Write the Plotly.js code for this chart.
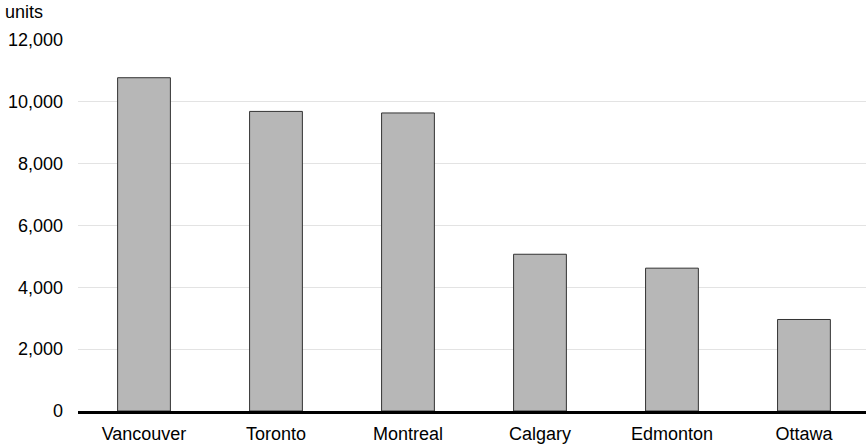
<!DOCTYPE html>
<html>
<head>
<meta charset="utf-8">
<script src="https://cdn.plot.ly/plotly-3.0.1.min.js"></script>
<style>html,body{margin:0;padding:0;background:#fff;}#chart{width:866px;height:444px;}</style>
</head>
<body>
<div id="chart"></div>
<script>
const cities = ["Vancouver", "Toronto", "Montreal", "Calgary", "Edmonton", "Ottawa"];
const units = [10780, 9690, 9640, 5070, 4620, 2960];
const yTickVals = [0, 2000, 4000, 6000, 8000, 10000, 12000];
const yTickText = ["0", "2,000", "4,000", "6,000", "8,000", "10,000", "12,000"];
const unitLabel = "units";

const trace = {
  type: "bar",
  x: cities,
  y: units,
  width: 0.4,
  marker: { color: "#b7b7b7", line: { color: "#333333", width: 1 } },
  hoverinfo: "x+y"
};

const layout = {
  width: 866,
  height: 444,
  margin: { l: 78, r: 0, t: 40, b: 33 },
  paper_bgcolor: "#ffffff",
  plot_bgcolor: "#ffffff",
  font: { family: "Liberation Sans, Arial, sans-serif", size: 18, color: "#000000" },
  showlegend: false,
  bargap: 0.6,
  xaxis: {
    type: "category",
    range: [-0.5, 5.47],
    showgrid: false,
    showline: true,
    linecolor: "#000000",
    linewidth: 3,
    ticks: "",
    tickfont: { size: 18, color: "#000000" },
    ticklabelstandoff: 4,
    fixedrange: true
  },
  yaxis: {
    range: [0, 12000],
    tickvals: yTickVals,
    ticktext: yTickText,
    showgrid: true,
    gridcolor: "#e3e3e3",
    gridwidth: 1,
    zeroline: false,
    showline: false,
    ticks: "",
    tickfont: { size: 18, color: "#000000" },
    ticklabelstandoff: 14,
    fixedrange: true
  },
  annotations: [{
    text: unitLabel,
    xref: "paper", yref: "paper",
    x: -78/788, y: 1,
    xanchor: "left", yanchor: "bottom",
    xshift: 3, yshift: 16,
    showarrow: false,
    font: { size: 18, color: "#000000" }
  }]
};

Plotly.newPlot("chart", [trace], layout, { displayModeBar: false, staticPlot: true });
</script>
</body>
</html>
